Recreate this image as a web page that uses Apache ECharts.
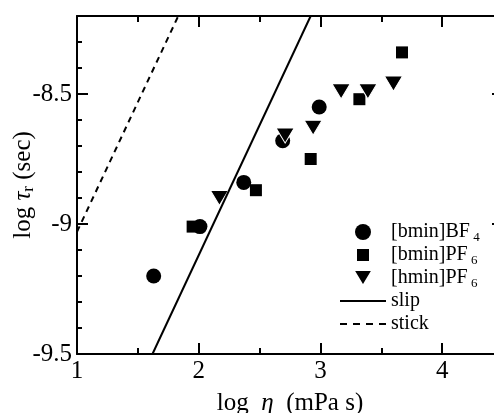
<!DOCTYPE html>
<html>
<head>
<meta charset="utf-8">
<script src="https://cdn.jsdelivr.net/npm/echarts@6/dist/echarts.min.js"></script>
<style>
  html, body { margin: 0; padding: 0; background: #fff; }
  #chart { width: 494px; height: 413px; }
</style>
</head>
<body>
<div id="chart"></div>
<script>
// data
const bf4Bmin = [[1.63, -9.20], [2.01, -9.01], [2.37, -8.84], [2.69, -8.68], [2.99, -8.55]];
const pf6Bmin = [[1.95, -9.01], [2.47, -8.87], [2.92, -8.75], [3.32, -8.52], [3.67, -8.34]];
const pf6Hmin = [[2.17, -8.90], [2.71, -8.66], [2.94, -8.63], [3.17, -8.49], [3.39, -8.49], [3.60, -8.46]];
const slipLine = [[1.62, -9.5], [2.92, -8.2]];
const stickLine = [[1.0, -9.03], [1.832, -8.2]];
const xTickLabels = [1, 2, 3, 4];
const yTickLabels = [-9.5, -9, -8.5];

const FONT = 'Liberation Serif';
const downTri = 'path://M0,0L18,0L9,15Z';
// legend icons for the two lines (solid / dashed)
const solidIcon = 'path://M0,0L46,0L46,2L0,2Z';
const dashIcon = 'path://M0,0L7,0L7,2L0,2Z M13,0L20,0L20,2L13,2Z M26,0L33,0L33,2L26,2Z M39,0L46,0L46,2L39,2Z';

const chartDom = document.getElementById('chart');
const myChart = echarts.init(chartDom, null, { renderer: 'canvas' });

const axisLine = { show: true, lineStyle: { color: '#000', width: 2 } };
const noLine = { show: false };
const tick = (len) => ({ show: true, inside: true, length: len, lineStyle: { color: '#000', width: 2 } });

const xBase = { type: 'value', min: 1, max: 4.5, splitLine: { show: false } };
const yBase = { type: 'value', min: -9.5, max: -8.2, splitLine: { show: false } };

const option = {
    animation: false,
    backgroundColor: '#fff',
    grid: { left: 77, right: -9, top: 16, bottom: 59, containLabel: false, outerBoundsMode: 'none' },
    xAxis: [
        {
            ...xBase, position: 'bottom', interval: 1,
            axisLine: axisLine, axisTick: tick(11),
            axisLabel: {
                color: '#000', fontFamily: FONT, fontSize: 25, margin: 5,
                formatter: (v) => xTickLabels.includes(v) ? String(v) : ''
            },
            name: '{a|log}  {i|η}  {a|(mPa s)}',
            nameLocation: 'middle',
            nameGap: 37,
            nameMoveOverlap: false,
            nameTextStyle: {
                color: '#000', fontFamily: FONT, fontSize: 25,
                rich: {
                    a: { fontFamily: FONT, fontSize: 25, color: '#000' },
                    i: { fontFamily: FONT, fontSize: 25, fontStyle: 'italic', color: '#000' }
                }
            }
        },
        { ...xBase, position: 'bottom', interval: 0.5, axisLine: noLine, axisTick: tick(6), axisLabel: { show: false } },
        { ...xBase, position: 'top', interval: 1, axisLine: axisLine, axisTick: tick(11), axisLabel: { show: false } },
        { ...xBase, position: 'top', interval: 0.5, axisLine: noLine, axisTick: tick(6), axisLabel: { show: false } }
    ],
    yAxis: [
        {
            ...yBase, position: 'left', interval: 0.5,
            axisLine: axisLine, axisTick: tick(11),
            axisLabel: {
                color: '#000', fontFamily: FONT, fontSize: 25, margin: 5,
                formatter: (v) => yTickLabels.some((t) => Math.abs(t - v) < 1e-6) ? String(v) : ''
            },
            name: '{a|log }{i|τ}{s|r}{a| (sec)}',
            nameLocation: 'middle',
            nameRotate: 90,
            nameGap: 40,
            nameMoveOverlap: false,
            nameTextStyle: {
                color: '#000', fontFamily: FONT, fontSize: 25,
                rich: {
                    a: { fontFamily: FONT, fontSize: 25, color: '#000' },
                    i: { fontFamily: FONT, fontSize: 25, fontStyle: 'italic', color: '#000' },
                    s: { fontFamily: FONT, fontSize: 17, color: '#000', padding: [10, 0, 0, 0] }
                }
            }
        },
        { ...yBase, position: 'left', interval: 0.1, axisLine: noLine, axisTick: tick(5), axisLabel: { show: false } },
        { ...yBase, position: 'right', interval: 0.5, axisLine: axisLine, axisTick: tick(11), axisLabel: { show: false } },
        { ...yBase, position: 'right', interval: 0.1, axisLine: noLine, axisTick: tick(5), axisLabel: { show: false } }
    ],
    legend: {
        orient: 'vertical',
        left: 340,
        top: 220,
        padding: 0,
        itemWidth: 46,
        itemHeight: 16,
        itemGap: -1,
        textStyle: {
            color: '#000', fontFamily: FONT, fontSize: 20,
            rich: {
                a: { fontFamily: FONT, fontSize: 20, color: '#000', lineHeight: 22 },
                s: { fontFamily: FONT, fontSize: 13, color: '#000', lineHeight: 22, padding: [11, 0, 0, 0] }
            }
        },
        formatter: (name) => {
            const subs = { '[bmin]BF4': ['[bmin]BF', ' 4'], '[bmin]PF6': ['[bmin]PF', ' 6'], '[hmin]PF6': ['[hmin]PF', ' 6'] };
            if (subs[name]) return '{a|' + subs[name][0] + '}{s|' + subs[name][1] + '}';
            return '{a|' + name + '}{s| }';
        },
        data: [
            { name: '[bmin]BF4', icon: 'circle' },
            { name: '[bmin]PF6', icon: 'path://M0,0M2,2L14,2L14,14L2,14Z M16,16' },
            { name: '[hmin]PF6', icon: downTri },
            { name: 'slip', icon: solidIcon },
            { name: 'stick', icon: dashIcon }
        ]
    },
    series: [
        {
            name: 'slip', type: 'line', data: slipLine, symbol: 'none',
            lineStyle: { color: '#000', width: 2 }, itemStyle: { color: '#000' }
        },
        {
            name: 'stick', type: 'line', data: stickLine, symbol: 'none',
            lineStyle: { color: '#000', width: 2, type: [6, 5] }, itemStyle: { color: '#000' }
        },
        {
            name: '[bmin]BF4', type: 'scatter', data: bf4Bmin, symbol: 'circle', symbolSize: 15,
            itemStyle: { color: '#000', opacity: 1 }
        },
        {
            name: '[bmin]PF6', type: 'scatter', data: pf6Bmin, symbol: 'rect', symbolSize: 12,
            itemStyle: { color: '#000', opacity: 1 }
        },
        {
            name: '[hmin]PF6', type: 'scatter', data: pf6Hmin, symbol: downTri, symbolSize: [18, 15],
            itemStyle: { color: '#000', opacity: 1, borderColor: '#fff', borderWidth: 1 }
        }
    ]
};

myChart.setOption(option);
</script>
</body>
</html>
